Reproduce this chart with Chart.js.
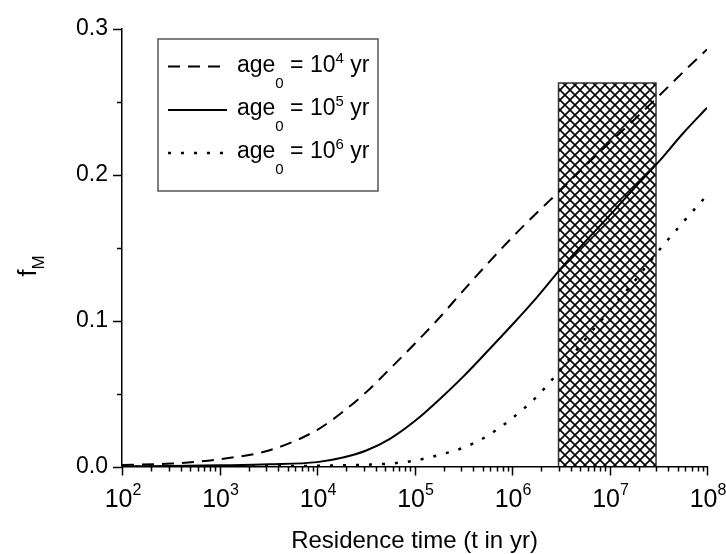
<!DOCTYPE html>
<html>
<head>
<meta charset="utf-8">
<script src="https://cdn.jsdelivr.net/npm/chart.js@4/dist/chart.umd.min.js"></script>
<style>
  html, body { margin: 0; padding: 0; background: #fff; }
  #wrap { width: 726px; height: 554px; }
</style>
</head>
<body>
<div id="wrap"><canvas id="fm-chart" width="726" height="554"></canvas></div>
<script>
// residence time (yr) and f_M
const residenceTime = [1e2, 3.2e2, 1e3, 3.2e3, 1e4, 1.8e4, 3.2e4, 5.6e4, 1e5, 1.8e5, 3.2e5, 5.6e5, 1e6, 1.8e6, 3.2e6, 5.6e6, 1e7, 1.8e7, 3.2e7, 5.6e7, 1e8];
const fmAge1e4 = [0.001, 0.002, 0.005, 0.011, 0.025, 0.037, 0.051, 0.067, 0.084, 0.102, 0.121, 0.139, 0.157, 0.174, 0.190, 0.206, 0.222, 0.238, 0.254, 0.270, 0.286];
const fmAge1e5 = [0, 0.0003, 0.0008, 0.0015, 0.003, 0.006, 0.011, 0.019, 0.031, 0.046, 0.062, 0.079, 0.097, 0.116, 0.136, 0.154, 0.172, 0.191, 0.209, 0.228, 0.246];
const fmAge1e6 = [0, 0, 0, 0.0002, 0.0005, 0.0008, 0.0012, 0.002, 0.004, 0.008, 0.013, 0.021, 0.033, 0.048, 0.067, 0.087, 0.107, 0.127, 0.148, 0.167, 0.186];
const seriesLabels = ["age_0 = 10^4 yr", "age_0 = 10^5 yr", "age_0 = 10^6 yr"];

// hatched range
const rangeTime = [3e6, 3e7];
const rangeTop = 0.263;

const xMajorTicks = [1e2, 1e3, 1e4, 1e5, 1e6, 1e7, 1e8];
const xTickLabels = ["10^2", "10^3", "10^4", "10^5", "10^6", "10^7", "10^8"];
const xMinorSteps = [2, 3, 4, 5, 6, 7, 8, 9];
const yTickValues = [0, 0.05, 0.1, 0.15, 0.2, 0.25, 0.3];
const yTickLabels = ["0.0", "", "0.1", "", "0.2", "", "0.3"];
const xTitle = "Residence time (t in yr)";
const yTitle = "f_M";

const FONT = '"Liberation Sans", Arial, sans-serif';

function makeHatch() {
  const c = document.createElement("canvas");
  c.width = 10;
  c.height = 10;
  const g = c.getContext("2d");
  g.strokeStyle = "#000";
  g.lineWidth = 1.6;
  for (let k = -10; k <= 10; k += 10) {
    g.beginPath();
    g.moveTo(k - 1, -1);
    g.lineTo(k + 11, 11);
    g.moveTo(k - 1, 11);
    g.lineTo(k + 11, -1);
    g.stroke();
  }
  return g.createPattern(c, "repeat");
}

// draws text with "_x" as subscript and "^x" as superscript
function drawRich(ctx, text, x, y, o) {
  const parts = [];
  for (let i = 0; i < text.length; i++) {
    const c = text[i];
    if ((c === "_" || c === "^") && i + 1 < text.length) {
      parts.push({ t: text[i + 1], k: c });
      i++;
    } else if (parts.length && parts[parts.length - 1].k === "") {
      parts[parts.length - 1].t += c;
    } else {
      parts.push({ t: c, k: "" });
    }
  }
  const fontFor = (k) => (k ? o.small : o.size) + "px " + FONT;
  let w = 0;
  parts.forEach((p) => {
    ctx.font = fontFor(p.k);
    p.w = ctx.measureText(p.t).width;
    w += p.w;
  });
  let cx = o.align === "center" ? x - w / 2 : x;
  ctx.textAlign = "left";
  ctx.textBaseline = "alphabetic";
  ctx.fillStyle = "#000";
  parts.forEach((p) => {
    ctx.font = fontFor(p.k);
    const dy = p.k === "^" ? o.supDy : p.k === "_" ? o.subDy : 0;
    ctx.fillText(p.t, cx, y + dy);
    cx += p.w;
  });
}

const decorations = {
  id: "decorations",
  afterDraw(chart) {
    const ctx = chart.ctx;
    const xs = chart.scales.x;
    const ys = chart.scales.y;
    const area = chart.chartArea;
    ctx.save();

    // tick marks, outward
    ctx.strokeStyle = "#000";
    ctx.lineWidth = 1.5;
    ctx.beginPath();
    xs.ticks.forEach((t) => {
      const px = Math.round(xs.getPixelForValue(t.value)) + 0.5;
      const len = xMajorTicks.includes(t.value) ? 9 : 5;
      ctx.moveTo(px, area.bottom);
      ctx.lineTo(px, area.bottom + len);
    });
    ys.ticks.forEach((t, i) => {
      const py = Math.round(ys.getPixelForValue(t.value)) + 0.5;
      const len = yTickLabels[i] ? 9 : 5;
      ctx.moveTo(area.left, py);
      ctx.lineTo(area.left - len, py);
    });
    ctx.stroke();

    // x tick labels
    xMajorTicks.forEach((v, i) => {
      drawRich(ctx, xTickLabels[i], xs.getPixelForValue(v) + 1, 507,
        { size: 25, small: 16, supDy: -12, subDy: 0, align: "center" });
    });

    // axis titles
    ctx.font = "24px " + FONT;
    ctx.fillStyle = "#000";
    ctx.textAlign = "center";
    ctx.textBaseline = "alphabetic";
    ctx.fillText(xTitle, (area.left + area.right) / 2, 548);

    ctx.save();
    ctx.translate(36, 266);
    ctx.rotate(-Math.PI / 2);
    drawRich(ctx, yTitle, 0, 0, { size: 25, small: 17, supDy: 0, subDy: 8, align: "center" });
    ctx.restore();

    // legend
    const box = { x: 158, y: 39, w: 220, h: 152 };
    ctx.fillStyle = "#fff";
    ctx.fillRect(box.x, box.y, box.w, box.h);
    ctx.strokeStyle = "#555";
    ctx.lineWidth = 1.5;
    ctx.strokeRect(box.x, box.y, box.w, box.h);
    const rows = [66.5, 110, 153];
    chart.data.datasets.slice(0, 3).forEach((ds, i) => {
      ctx.beginPath();
      ctx.setLineDash(ds.borderDash || []);
      ctx.strokeStyle = "#000";
      ctx.lineWidth = ds.borderWidth;
      ctx.moveTo(168, rows[i]);
      ctx.lineTo(227, rows[i]);
      ctx.stroke();
      ctx.setLineDash([]);
      drawRich(ctx, ds.label, 237, rows[i] + 5,
        { size: 23, small: 15, supDy: -9, subDy: 16, align: "left" });
    });

    ctx.restore();
  },
};

function createChart() {
  const ctx = document.getElementById("fm-chart").getContext("2d");
  const curve = (label, values, dash, width) => ({
    label: label,
    data: residenceTime.map((t, i) => ({ x: t, y: values[i] })),
    borderColor: "#000",
    borderWidth: width,
    borderDash: dash,
    pointRadius: 0,
    cubicInterpolationMode: "monotone",
    fill: false,
  });

  const config = {
    type: "line",
    data: {
      datasets: [
        curve(seriesLabels[0], fmAge1e4, [12, 8], 2),
        curve(seriesLabels[1], fmAge1e5, [], 2),
        curve(seriesLabels[2], fmAge1e6, [3, 10], 2.5),
        {
          label: "range",
          data: [
            { x: rangeTime[0], y: 0 },
            { x: rangeTime[0], y: rangeTop },
            { x: rangeTime[1], y: rangeTop },
            { x: rangeTime[1], y: 0 },
          ],
          borderColor: "#333",
          borderWidth: 1.5,
          backgroundColor: makeHatch(),
          fill: "origin",
          pointRadius: 0,
          tension: 0,
        },
      ],
    },
    options: {
      responsive: false,
      animation: false,
      devicePixelRatio: 1,
      layout: { padding: { top: 29, right: 19, left: 0, bottom: 0 } },
      plugins: { legend: { display: false }, tooltip: { enabled: false } },
      scales: {
        x: {
          type: "logarithmic",
          min: 1e2,
          max: 1e8,
          grid: { display: false, drawTicks: false },
          border: { display: true, color: "#000", width: 1.5 },
          ticks: { display: false },
          afterBuildTicks(scale) {
            const ticks = [];
            xMajorTicks.forEach((d, i) => {
              ticks.push({ value: d });
              if (i < xMajorTicks.length - 1) xMinorSteps.forEach((m) => ticks.push({ value: d * m }));
            });
            scale.ticks = ticks;
          },
          afterFit(scale) { scale.height = 87.5; },
        },
        y: {
          min: 0,
          max: 0.3,
          grid: { display: false, drawTicks: false },
          border: { display: true, color: "#000", width: 1.5 },
          ticks: {
            autoSkip: false,
            padding: 14,
            color: "#000",
            font: { family: FONT, size: 23 },
            callback: (v, i) => yTickLabels[i],
          },
          afterBuildTicks(scale) {
            scale.ticks = yTickValues.map((v) => ({ value: v }));
          },
          afterFit(scale) { scale.width = 122; },
        },
      },
    },
    plugins: [decorations],
  };
  return new Chart(ctx, config);
}

createChart();
</script>
</body>
</html>
